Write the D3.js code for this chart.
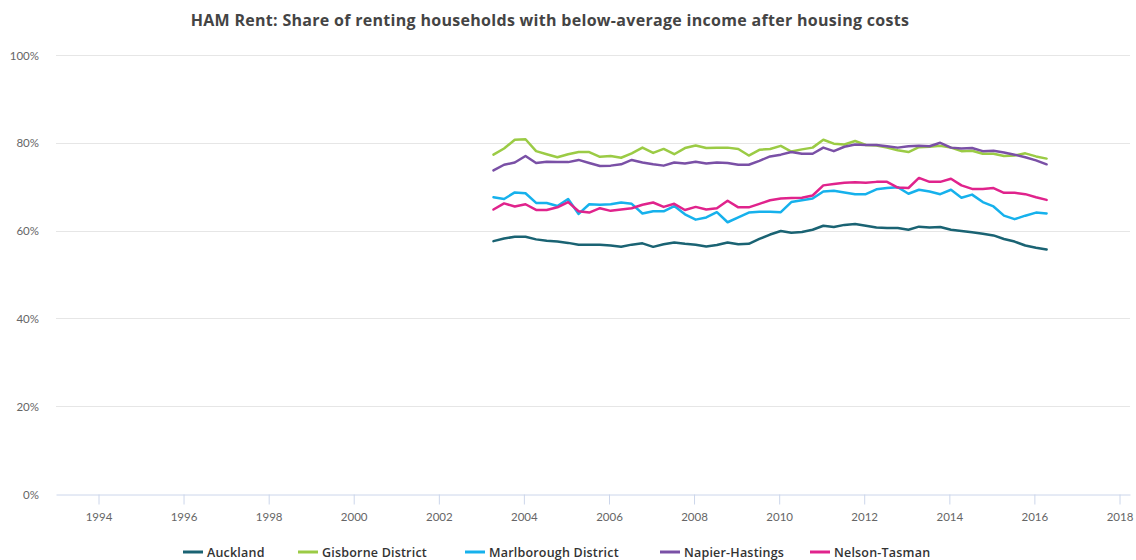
<!DOCTYPE html>
<html>
<head>
<meta charset="utf-8">
<script src="https://cdn.jsdelivr.net/npm/d3@7"></script>
<style>
  html, body { margin: 0; padding: 0; background: #ffffff; }
  svg { display: block; font-family: Lato, "Open Sans", sans-serif; }
</style>
</head>
<body>
<svg id="chart" width="1136" height="560"></svg>
<script>
// Quarterly observations, April 2003 to April 2016
const quarters = [
  "2003-04","2003-07","2003-10","2004-01","2004-04","2004-07","2004-10","2005-01",
  "2005-04","2005-07","2005-10","2006-01","2006-04","2006-07","2006-10","2007-01",
  "2007-04","2007-07","2007-10","2008-01","2008-04","2008-07","2008-10","2009-01",
  "2009-04","2009-07","2009-10","2010-01","2010-04","2010-07","2010-10","2011-01",
  "2011-04","2011-07","2011-10","2012-01","2012-04","2012-07","2012-10","2013-01",
  "2013-04","2013-07","2013-10","2014-01","2014-04","2014-07","2014-10","2015-01",
  "2015-04","2015-07","2015-10","2016-01","2016-04"
];

// Share of renting households below average income after housing costs (%)
const auckland = [
  57.6, 58.2, 58.6, 58.6, 58.0, 57.7, 57.5, 57.2, 56.8, 56.8, 56.8, 56.6, 56.3,
  56.8, 57.1, 56.3, 56.9, 57.3, 57.0, 56.8, 56.4, 56.7, 57.3, 56.9, 57.0, 58.1,
  59.1, 59.9, 59.5, 59.7, 60.2, 61.1, 60.8, 61.3, 61.5, 61.1, 60.7, 60.6, 60.6,
  60.2, 60.9, 60.7, 60.8, 60.2, 59.9, 59.6, 59.3, 58.9, 58.1, 57.5, 56.6, 56.1, 55.7
];
const gisborne = [
  77.3, 78.7, 80.7, 80.8, 78.1, 77.4, 76.7, 77.4, 77.9, 77.9, 76.8, 77.0, 76.6,
  77.6, 78.9, 77.7, 78.6, 77.4, 78.8, 79.4, 78.8, 78.9, 78.9, 78.6, 77.1, 78.4,
  78.6, 79.3, 78.0, 78.5, 78.9, 80.7, 79.8, 79.6, 80.4, 79.5, 79.4, 78.9, 78.3,
  77.9, 79.0, 79.1, 79.3, 78.9, 78.1, 78.2, 77.5, 77.5, 77.0, 77.1, 77.6, 76.9, 76.4
];
const marlborough = [
  67.6, 67.2, 68.7, 68.5, 66.3, 66.3, 65.6, 67.2, 63.8, 66.0, 65.9, 66.0, 66.4,
  66.1, 63.9, 64.4, 64.4, 65.6, 63.7, 62.5, 63.0, 64.2, 61.9, 63.0, 64.1, 64.3,
  64.3, 64.2, 66.5, 66.9, 67.3, 68.9, 69.1, 68.7, 68.3, 68.3, 69.4, 69.7, 69.9,
  68.4, 69.3, 68.9, 68.3, 69.3, 67.5, 68.2, 66.5, 65.5, 63.4, 62.6, 63.4, 64.1, 63.9
];
const napier = [
  73.7, 75.0, 75.5, 77.0, 75.4, 75.7, 75.6, 75.6, 76.1, 75.4, 74.7, 74.8, 75.1,
  76.1, 75.5, 75.1, 74.8, 75.5, 75.3, 75.7, 75.3, 75.5, 75.4, 75.0, 75.0, 75.9,
  76.9, 77.3, 77.9, 77.5, 77.5, 78.9, 78.1, 79.1, 79.6, 79.5, 79.5, 79.2, 78.9,
  79.2, 79.3, 79.2, 80.0, 78.9, 78.7, 78.8, 78.1, 78.2, 77.8, 77.3, 76.7, 76.0, 75.1
];
const nelson = [
  64.8, 66.2, 65.5, 66.0, 64.7, 64.7, 65.3, 66.5, 64.4, 64.1, 65.1, 64.5, 64.8,
  65.1, 65.9, 66.4, 65.4, 66.1, 64.7, 65.4, 64.8, 65.1, 66.8, 65.3, 65.3, 66.1,
  66.9, 67.3, 67.4, 67.5, 68.0, 70.3, 70.6, 70.9, 71.0, 70.9, 71.1, 71.1, 69.8,
  69.7, 72.0, 71.1, 71.1, 71.8, 70.3, 69.5, 69.5, 69.7, 68.6, 68.6, 68.3, 67.6, 67.0
];

const seriesNames = ["Auckland", "Gisborne District", "Marlborough District", "Napier-Hastings", "Nelson-Tasman"];
const seriesValues = [auckland, gisborne, marlborough, napier, nelson];
const seriesColors = ["#1a6373", "#9bcb45", "#16b1ec", "#7a50a6", "#e0238c"];

const yTicks = [0, 20, 40, 60, 80, 100];
const xTickYears = [1994, 1996, 1998, 2000, 2002, 2004, 2006, 2008, 2010, 2012, 2014, 2016, 2018];

const title = "HAM Rent: Share of renting households with below-average income after housing costs";

const svg = d3.select("#chart");
const parseMonth = d3.timeParse("%Y-%m");
const dates = quarters.map(q => d3.timeDay.offset(parseMonth(q), 14));

const x = d3.scaleTime()
  .domain([new Date(1993, 0, 1), new Date(2018, 3, 1)])
  .range([56, 1130]);
const y = d3.scaleLinear().domain([0, 100]).range([494, 55]);

// Title
svg.append("text")
  .attr("x", 550).attr("y", 26)
  .attr("text-anchor", "middle")
  .attr("font-family", "'Open Sans', Lato, sans-serif")
  .attr("font-size", 16).attr("font-weight", 700)
  .attr("letter-spacing", 0.3)
  .attr("fill", "#444444")
  .text(title);

// Horizontal gridlines
svg.append("g")
  .selectAll("line")
  .data(yTicks.filter(t => t > 0))
  .join("line")
  .attr("x1", 56).attr("x2", 1130)
  .attr("y1", d => Math.round(y(d)) + 0.5).attr("y2", d => Math.round(y(d)) + 0.5)
  .attr("stroke", "#e6e6e6").attr("stroke-width", 1);

// Y axis labels
const yAxis = d3.axisLeft(y).tickValues(yTicks).tickFormat(d => d + "%").tickSize(0).tickPadding(0);
const gy = svg.append("g").attr("transform", "translate(39,0)").call(yAxis);
gy.select(".domain").remove();
gy.selectAll("text")
  .attr("font-family", "Lato, 'Open Sans', sans-serif")
  .attr("font-size", 11.5).attr("fill", "#666666").attr("dy", "0.35em");

// X axis
const xAxis = d3.axisBottom(x)
  .tickValues(xTickYears.map(yr => new Date(yr, 0, 1)))
  .tickFormat(d3.timeFormat("%Y"))
  .tickSize(10).tickPadding(8).tickSizeOuter(0);
const gx = svg.append("g").attr("transform", "translate(0," + (Math.round(y(0)) + 0.5) + ")").call(xAxis);
gx.select(".domain").attr("stroke", "#ccd6eb");
gx.selectAll(".tick line").attr("stroke", "#ccd6eb");
gx.selectAll("text")
  .attr("font-family", "Lato, 'Open Sans', sans-serif")
  .attr("font-size", 11.5).attr("fill", "#666666");

// Series lines
const line = d3.line()
  .x((d, i) => x(dates[i]))
  .y(d => y(d));

svg.append("g")
  .selectAll("path")
  .data(seriesValues)
  .join("path")
  .attr("d", d => line(d))
  .attr("fill", "none")
  .attr("stroke", (d, i) => seriesColors[i])
  .attr("stroke-width", 2.5)
  .attr("stroke-linejoin", "round")
  .attr("stroke-linecap", "round");

// Legend
const legendX = [183, 298, 465, 660, 810];
const legend = svg.append("g")
  .selectAll("g")
  .data(seriesNames)
  .join("g")
  .attr("transform", (d, i) => "translate(" + legendX[i] + ",552)");
legend.append("line")
  .attr("x1", 0).attr("x2", 20).attr("y1", 0).attr("y2", 0)
  .attr("stroke", (d, i) => seriesColors[i]).attr("stroke-width", 3);
legend.append("text")
  .attr("x", 24).attr("y", 5)
  .attr("font-family", "'Open Sans', Lato, sans-serif")
  .attr("font-size", 12.5).attr("font-weight", 600)
  .attr("letter-spacing", 0.2)
  .attr("fill", "#333333")
  .text(d => d);
</script>
</body>
</html>
